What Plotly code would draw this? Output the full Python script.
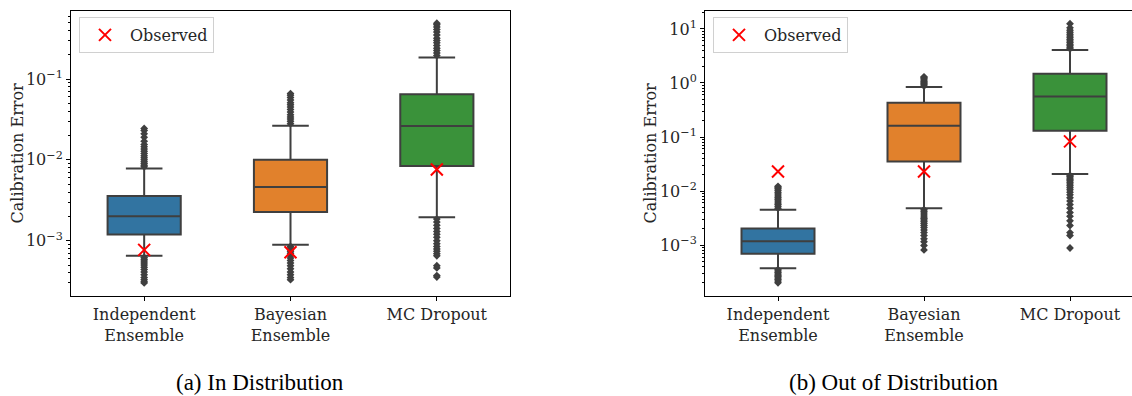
import plotly.graph_objects as go

# ---------------- data ----------------
categories = ["Independent<br>Ensemble", "Bayesian<br>Ensemble", "MC Dropout"]
box_colors = ["#3274a1", "#e1812c", "#3a923a"]

id_tickvals = [1e-3, 1e-2, 1e-1]
id_ticktext = ["10<sup>−3</sup>", "10<sup>−2</sup>", "10<sup>−1</sup>"]
ood_tickvals = [1e-3, 1e-2, 1e-1, 1e0, 1e1]
ood_ticktext = ["10<sup>−3</sup>", "10<sup>−2</sup>", "10<sup>−1</sup>", "10<sup>0</sup>", "10<sup>1</sup>"]

# (a) In Distribution
id_q1 = [1.19e-3, 2.27e-3, 8.4e-3]
id_median = [2.0e-3, 4.6e-3, 2.62e-2]
id_q3 = [3.58e-3, 1.0e-2, 6.46e-2]
id_lowerfence = [6.5e-4, 8.9e-4, 1.95e-3]
id_upperfence = [7.8e-3, 2.64e-2, 1.84e-1]
id_observed = [7.7e-4, 7.2e-4, 7.6e-3]
id_outliers_indep = [8.2e-3, 8.6e-3, 9.0e-3, 9.5e-3, 1.0e-2, 1.06e-2, 1.12e-2, 1.2e-2, 1.28e-2, 1.36e-2,
                     1.45e-2, 1.55e-2, 1.7e-2, 1.9e-2, 2.1e-2, 2.3e-2, 2.45e-2,
                     6.2e-4, 5.9e-4, 5.6e-4, 5.3e-4, 5.0e-4, 4.7e-4, 4.4e-4, 4.1e-4, 3.8e-4, 3.5e-4,
                     3.3e-4, 3.1e-4, 3.0e-4]
id_outliers_bayes = [2.8e-2, 3.0e-2, 3.2e-2, 3.4e-2, 3.6e-2, 3.9e-2, 4.2e-2, 4.5e-2, 4.8e-2, 5.1e-2,
                     5.5e-2, 5.9e-2, 6.3e-2, 6.6e-2,
                     8.5e-4, 8.1e-4, 7.7e-4, 7.3e-4, 6.9e-4, 6.5e-4, 6.1e-4, 5.7e-4, 5.3e-4, 4.9e-4,
                     4.5e-4, 4.1e-4, 3.8e-4, 3.5e-4, 3.3e-4]
id_outliers_mc = [1.95e-1, 2.1e-1, 2.25e-1, 2.4e-1, 2.6e-1, 2.8e-1, 3.0e-1, 3.2e-1, 3.5e-1, 3.8e-1,
                  4.1e-1, 4.4e-1, 4.7e-1, 4.9e-1,
                  1.85e-3, 1.7e-3, 1.55e-3, 1.42e-3, 1.3e-3, 1.2e-3, 1.1e-3, 1.0e-3, 9.2e-4, 8.5e-4,
                  7.9e-4, 7.4e-4, 6.9e-4, 6.5e-4, 4.9e-4, 4.6e-4, 3.7e-4, 3.55e-4]

# (b) Out of Distribution
ood_q1 = [6.9e-4, 3.5e-2, 1.31e-1]
ood_median = [1.17e-3, 1.62e-1, 5.65e-1]
ood_q3 = [2.03e-3, 4.3e-1, 1.49]
ood_lowerfence = [3.7e-4, 4.8e-3, 2.06e-2]
ood_upperfence = [4.5e-3, 8.4e-1, 4.08]
ood_observed = [2.3e-2, 2.3e-2, 8.3e-2]
ood_outliers_indep = [4.8e-3, 5.2e-3, 5.6e-3, 6.0e-3, 6.5e-3, 7.0e-3, 7.5e-3, 8.1e-3, 8.8e-3, 9.5e-3,
                      1.03e-2, 1.1e-2, 1.17e-2, 1.22e-2,
                      3.5e-4, 3.3e-4, 3.1e-4, 2.9e-4, 2.75e-4, 2.6e-4, 2.45e-4, 2.3e-4, 2.15e-4, 2.0e-4]
ood_outliers_bayes = [8.8e-1, 9.3e-1, 9.8e-1, 1.03, 1.08, 1.14, 1.2, 1.26, 1.3,
                      4.5e-3, 4.2e-3, 3.9e-3, 3.6e-3, 3.3e-3, 3.1e-3, 2.9e-3, 2.7e-3, 2.5e-3, 2.3e-3,
                      2.1e-3, 1.9e-3, 1.7e-3, 1.5e-3, 1.3e-3, 1.15e-3, 9.8e-4, 8.1e-4]
ood_outliers_mc = [4.3, 4.6, 4.9, 5.2, 5.6, 6.0, 6.4, 6.9, 7.4, 8.0, 8.7, 9.5, 10.5, 12.5,
                   1.95e-2, 1.85e-2, 1.75e-2, 1.65e-2, 1.55e-2, 1.45e-2, 1.35e-2, 1.25e-2, 1.15e-2,
                   1.05e-2, 9.5e-3, 8.5e-3, 7.5e-3, 6.5e-3, 5.6e-3, 4.8e-3, 4.0e-3, 3.4e-3,
                   2.8e-3, 2.3e-3, 1.7e-3, 1.5e-3, 8.8e-4]

# ---------------- figure ----------------
W, H = 1132, 396
EDGE = "#3f3f3f"
SERIF = "DejaVu Serif"
TEXT = "#262626"
FS = 16

fig = go.Figure()


def add_panel(xa, ya, q1, med, q3, lo, hi, outliers, observed, legend_name):
    for i, cat in enumerate(categories):
        fig.add_trace(go.Box(
            x=[cat], q1=[q1[i]], median=[med[i]], q3=[q3[i]],
            lowerfence=[lo[i]], upperfence=[hi[i]],
            boxpoints=False, width=0.5, whiskerwidth=0.5,
            fillcolor=box_colors[i], line=dict(color=EDGE, width=2),
            xaxis=xa, yaxis=ya, showlegend=False, hoverinfo="skip",
        ))
        fig.add_trace(go.Scatter(
            x=[cat] * len(outliers[i]), y=outliers[i], mode="markers",
            marker=dict(symbol="diamond", size=6, color=EDGE),
            xaxis=xa, yaxis=ya, showlegend=False, hoverinfo="skip",
        ))
    fig.add_trace(go.Scatter(
        x=categories, y=observed, mode="markers", name="Observed",
        marker=dict(symbol="x-thin", size=12, color="red",
                    line=dict(color="red", width=2)),
        xaxis=xa, yaxis=ya, legend=legend_name, showlegend=True,
    ))


add_panel("x", "y", id_q1, id_median, id_q3, id_lowerfence, id_upperfence,
          [id_outliers_indep, id_outliers_bayes, id_outliers_mc], id_observed, "legend")
add_panel("x2", "y2", ood_q1, ood_median, ood_q3, ood_lowerfence, ood_upperfence,
          [ood_outliers_indep, ood_outliers_bayes, ood_outliers_mc], ood_observed, "legend2")


def px_x(p):
    return p / W


def px_y(p):
    return 1 - p / H


ydom = [px_y(296), px_y(11)]

xaxis_common = dict(
    type="category", categoryorder="array", categoryarray=categories,
    showline=True, linecolor="#000", linewidth=1, mirror=True,
    ticks="outside", ticklen=4, tickcolor="#000", showgrid=False, zeroline=False,
    tickfont=dict(family=SERIF, size=FS, color=TEXT),
)
yaxis_common = dict(
    type="log", tickmode="array",
    showline=True, linecolor="#000", linewidth=1,
    ticks="outside", ticklen=4, tickcolor="#000", showgrid=False, zeroline=False,
    tickfont=dict(family=SERIF, size=FS, color=TEXT),
    minor=dict(ticks="outside", ticklen=2, tickcolor="#000", dtick="D1", showgrid=False),
)
legend_common = dict(
    xanchor="left", yanchor="top",
    bgcolor="rgba(255,255,255,0.8)", bordercolor="#d0d0d0", borderwidth=1,
    font=dict(family=SERIF, size=FS, color=TEXT), itemwidth=40, tracegroupgap=0,
)

fig.update_layout(
    width=W, height=H, margin=dict(l=0, r=0, t=0, b=0),
    paper_bgcolor="white", plot_bgcolor="white",
    boxmode="overlay",
    xaxis=dict(domain=[px_x(71), px_x(510)], range=[-0.5, 2.5], anchor="y", **xaxis_common),
    yaxis=dict(domain=ydom, range=[-3.684, -0.159], anchor="x", mirror=True,
               tickvals=id_tickvals, ticktext=id_ticktext, **yaxis_common),
    xaxis2=dict(domain=[px_x(705), 1.0], range=[-0.5, 2.5 - 11 / 146], anchor="y2", **xaxis_common),
    yaxis2=dict(domain=ydom, range=[-3.944, 1.333], anchor="x2", mirror=False,
                tickvals=ood_tickvals, ticktext=ood_ticktext, **yaxis_common),
    legend=dict(x=px_x(79), y=px_y(17), **legend_common),
    legend2=dict(x=px_x(713), y=px_y(17), **legend_common),
    annotations=[
        dict(text="Calibration Error", textangle=-90, x=px_x(17), y=px_y(153.5),
             xref="paper", yref="paper", showarrow=False, xanchor="center", yanchor="middle",
             font=dict(family=SERIF, size=FS, color=TEXT)),
        dict(text="Calibration Error", textangle=-90, x=px_x(650), y=px_y(153.5),
             xref="paper", yref="paper", showarrow=False, xanchor="center", yanchor="middle",
             font=dict(family=SERIF, size=FS, color=TEXT)),
        dict(text="(a) In Distribution", x=px_x(260), y=0,
             xref="paper", yref="paper", showarrow=False, xanchor="center", yanchor="bottom",
             borderpad=0, font=dict(family="Liberation Serif", size=23, color="#000")),
        dict(text="(b) Out of Distribution", x=px_x(894), y=0,
             xref="paper", yref="paper", showarrow=False, xanchor="center", yanchor="bottom",
             borderpad=0, font=dict(family="Liberation Serif", size=23, color="#000")),
    ],
)

fig.write_html("out.html")
